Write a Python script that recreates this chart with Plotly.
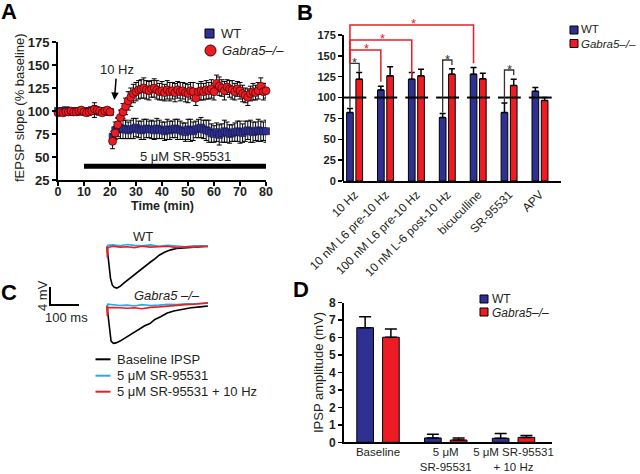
import plotly.graph_objects as go

W, H = 640, 474
def px(x): return x / W
def py(y): return 1 - y / H

BLUE = "#2E3192"
RED = "#ED1C24"
CYAN = "#29ABE2"
INK = "#231F20"
FONT = "Liberation Sans, Arial, sans-serif"

# ---------------- Panel A data ----------------
time_min = list(range(0, 81))
wt_a = ([100, 99, 100, 101, 100, 100, 99, 100, 99, 100, 100, 99, 100, 101, 101, 100, 99, 100, 100, 99, 99]
        + [72, 79, 82, 80]
        + [81, 80, 79, 80, 81, 82, 80, 79, 80, 81,
           80, 80, 79, 81, 80, 79, 78, 80, 79, 80,
           81, 80, 79, 78, 77, 80, 79, 78, 80, 81,
           82, 80, 79, 78, 76, 75, 77, 74, 76, 78,
           77, 75, 76, 77, 78, 77, 76, 78, 79, 78,
           77, 78, 79, 78, 78, 78])
wt_a_err = ([2, 2, 3, 2, 3, 2, 2, 3, 2, 3, 2, 3, 2, 3, 8, 3, 2, 3, 2, 3, 2]
            + [6]
            + [9, 10, 10, 11, 10, 9, 10, 11, 10, 9,
               10, 11, 10, 9, 10, 10, 11, 10, 9, 10,
               11, 10, 9, 10, 11, 10, 9, 10, 11, 12,
               10, 9, 10, 11, 10, 11, 12, 10, 9, 10,
               11, 10, 12, 11, 10, 9, 10, 11, 12, 10,
               11, 10, 12, 11, 10, 12, 11, 10, 12])
ko_a = ([98, 99, 98, 99, 99, 100, 99, 99, 100, 101, 99, 98, 99, 100, 102, 101, 100, 98, 100, 101, 99]
        + [67]
        + [76, 85, 93, 99, 105, 111, 115, 119, 121, 123,
           124, 125, 123, 122, 124, 125, 123, 121, 122, 120,
           123, 121, 122, 120, 123, 121, 122, 120, 119, 122,
           121, 114, 121, 122, 121, 123, 122, 124, 121, 130,
           127, 125, 122, 126, 124, 123, 121, 124, 122, 119,
           117, 115, 119, 121, 120, 122, 127, 121, 122])
ko_a_err = ([2, 3, 2, 3, 2, 2, 3, 2, 3, 2, 3, 2, 3, 3, 4, 3, 2, 3, 3, 2, 3]
            + [8]
            + [7, 8, 8, 9, 9, 10, 10, 10, 10, 10,
               10, 11, 10, 10, 9, 10, 10, 9, 10, 9,
               10, 10, 9, 10, 9, 10, 9, 10, 10, 9,
               10, 8, 9, 10, 9, 10, 9, 10, 9, 9,
               10, 9, 10, 8, 9, 10, 9, 8, 9, 9,
               8, 9, 8, 9, 8, 9, 9, 9, 8])
drug_window = [10, 80]          # 5 uM SR-95531 application (min)
stim_time = 22                  # 10 Hz stimulation (min)
a_yticks = [25, 50, 75, 100, 125, 150, 175]
a_xticks = [0, 10, 20, 30, 40, 50, 60, 70, 80]

# ---------------- Panel B data ----------------
b_cats = ["10 Hz", "10 nM L6 pre-10 Hz", "100 nM L6 pre-10 Hz", "10 nM L-6 post-10 Hz",
          "bicuculline", "SR-95531", "APV"]
wt_b = [82, 109, 122, 76, 128, 82, 107.5]
wt_b_err = [5, 4.5, 8, 5, 8, 11.5, 4.5]
ko_b = [122, 126, 126, 128, 122.5, 114.5, 96.5]
ko_b_err = [8, 11, 8, 6.5, 6.5, 7.5, 3.5]
b_yticks = [0, 25, 50, 75, 100, 125, 150, 175]
b_reference = 100
# within-group significance (group index, bracket height, left foot, right foot)
sig_groups = [0, 3, 5]
sig_heights = [141, 145, 133]
sig_left_feet = [88, 82, 94]
sig_right_feet = [131, 139, 127]
# versus 10 Hz WT (target group, bracket height, right foot)
cmp_groups = [1, 2, 4]
cmp_heights = [157, 169, 187]
cmp_feet = [119, 124, 141]

# ---------------- Panel C data (IPSP traces) ----------------
wt_base_t = [0, 3, 7, 12, 18, 25, 34, 45, 60, 75, 90, 105, 120, 135, 150, 165, 180, 200, 220, 240, 260, 290, 320, 348]
wt_base_v = [0, -1.5, -4.5, -7.0, -8.5, -9.0, -9.2, -8.8, -8.0, -7.2, -6.4, -5.8, -4.8, -4.2, -3.4, -2.7,
             -1.9, -1.2, -0.7, -0.4, -0.3, -0.1, 0.0, 0.1]
ko_base_t = [0, 3, 8, 14, 22, 31, 45, 62, 80, 91, 110, 130, 148, 165, 185, 206, 230, 263, 290, 321, 348]
ko_base_v = [0, -2.0, -5.5, -7.8, -8.3, -8.2, -7.8, -7.1, -6.4, -6.0, -5.3, -4.4, -3.9, -3.0, -2.4,
             -1.6, -1.1, -0.7, -0.4, -0.2, 0.0]
flat_t = [0, 1, 3, 20, 45, 70, 95, 120, 150, 180, 210, 240, 270, 300, 330, 348]
wt_sr_v = [0.2, -1.2, 0.3, 0.4, 0.2, 0.5, 0.3, 0.2, 0.4, 0.1, 0.3, 0.2, 0.0, 0.2, 0.1, 0.2]
wt_hz_v = [0, -2.4, -0.2, 0.1, -0.1, 0.0, -0.2, 0.1, -0.1, 0.0, 0.1, -0.2, 0.0, -0.1, 0.1, 0.0]
ko_sr_v = [0.3, -1.0, 0.4, 0.3, 0.1, 0.2, 0.0, 0.3, 0.1, 0.2, 0.4, 0.3, 0.5, 0.5, 0.6, 0.6]
ko_hz_v = [0, -2.2, -0.3, -0.3, -0.4, -0.5, -0.4, -0.6, -0.3, -0.2, 0.0, 0.1, 0.3, 0.4, 0.6, 0.7]
scale_ms = 100
scale_mv = 4

# ---------------- Panel D data ----------------
d_cats = ["Baseline", "5 \u03bcM<br>SR-95531", "5 \u03bcM SR-95531<br>+ 10 Hz"]
wt_d = [6.57, 0.25, 0.23]
wt_d_err = [0.63, 0.21, 0.28]
ko_d = [6.02, 0.13, 0.28]
ko_d_err = [0.47, 0.12, 0.11]

# legend labels
group_names = ["WT", "<i>Gabra5\u2013/\u2013</i>"]
trace_names = ["Baseline IPSP", "5 \u03bcM SR-95531", "5 \u03bcM SR-95531 + 10 Hz"]

fig = go.Figure()

# Panel A
fig.add_trace(go.Scatter(
    x=time_min, y=wt_a, mode="markers", name=group_names[0], showlegend=False,
    error_y=dict(type="data", array=wt_a_err, color="black", thickness=1, width=2.5),
    marker=dict(symbol="square", size=7, color=BLUE, line=dict(color="#14163f", width=0.6)),
    cliponaxis=False, xaxis="x", yaxis="y"))
fig.add_trace(go.Scatter(
    x=time_min, y=ko_a, mode="markers", name=group_names[1], showlegend=False,
    error_y=dict(type="data", array=ko_a_err, color="black", thickness=1, width=2.5),
    marker=dict(symbol="circle", size=8, color=RED, line=dict(color="#3a0000", width=0.7)),
    cliponaxis=False, xaxis="x", yaxis="y"))

# Panel B
bw_b = 0.216
fig.add_trace(go.Bar(
    x=b_cats, y=wt_b, name=group_names[0], showlegend=False, width=bw_b, offset=-0.15 - bw_b / 2,
    marker=dict(color=BLUE, line=dict(color="black", width=1)),
    error_y=dict(type="data", symmetric=False, array=wt_b_err, arrayminus=[0] * len(wt_b),
                 color="black", thickness=1.5, width=3),
    xaxis="x2", yaxis="y2"))
fig.add_trace(go.Bar(
    x=b_cats, y=ko_b, name=group_names[1], showlegend=False, width=bw_b, offset=0.15 - bw_b / 2,
    marker=dict(color=RED, line=dict(color="black", width=1)),
    error_y=dict(type="data", symmetric=False, array=ko_b_err, arrayminus=[0] * len(ko_b),
                 color="black", thickness=1.5, width=3),
    xaxis="x2", yaxis="y2"))

# Panel D
bw_d = 0.246
fig.add_trace(go.Bar(
    x=d_cats, y=wt_d, name=group_names[0], showlegend=False, width=bw_d, offset=-0.19 - bw_d / 2,
    marker=dict(color=BLUE, line=dict(color="black", width=1)),
    error_y=dict(type="data", symmetric=False, array=wt_d_err, arrayminus=[0] * 3,
                 color="black", thickness=1.5, width=6),
    xaxis="x3", yaxis="y3"))
fig.add_trace(go.Bar(
    x=d_cats, y=ko_d, name=group_names[1], showlegend=False, width=bw_d, offset=0.19 - bw_d / 2,
    marker=dict(color=RED, line=dict(color="black", width=1)),
    error_y=dict(type="data", symmetric=False, array=ko_d_err, arrayminus=[0] * 3,
                 color="black", thickness=1.5, width=6),
    xaxis="x3", yaxis="y3"))

# Panel C traces
trace_colors = ["black", CYAN, RED]
for ax, (bt, bv), sv, hv in [
        ("4", (wt_base_t, wt_base_v), wt_sr_v, wt_hz_v),
        ("5", (ko_base_t, ko_base_v), ko_sr_v, ko_hz_v)]:
    for name, col, (tx, ty) in zip(trace_names, trace_colors, [(bt, bv), (flat_t, sv), (flat_t, hv)]):
        fig.add_trace(go.Scatter(x=tx, y=ty, mode="lines", name=name, showlegend=False,
                                 line=dict(color=col, width=1.6),
                                 xaxis="x" + ax, yaxis="y" + ax))

tickfont_bold = lambda s: dict(family=FONT, size=s, color=INK, weight="bold")
axis_common = dict(showgrid=False, zeroline=False, linecolor="black", linewidth=2,
                   ticks="outside", ticklen=4, tickwidth=1.5, tickcolor="black", automargin=False)

layout = dict(
    width=W, height=H, margin=dict(l=0, r=0, t=0, b=0, autoexpand=False),
    paper_bgcolor="white", plot_bgcolor="rgba(0,0,0,0)",
    font=dict(family=FONT, size=13, color=INK),
    barmode="overlay", showlegend=False,
    # A
    xaxis=dict(domain=[px(58), px(266)], range=[0, 80], tickvals=a_xticks, showline=True,
               tickfont=tickfont_bold(12.5), ticklabelstandoff=-5, anchor="y", **axis_common),
    yaxis=dict(domain=[py(180), py(42)], range=[25, 175], tickvals=a_yticks, showline=True,
               tickfont=tickfont_bold(13), anchor="x", **axis_common),
    # B
    xaxis2=dict(domain=[px(343), px(561)], range=[-0.375, 6.68], type="category", showline=True,
                showgrid=False, zeroline=False, linecolor="black", linewidth=2, ticks="",
                tickangle=-45, tickfont=dict(family=FONT, size=12, color=INK), anchor="y2",
                automargin=False),
    yaxis2=dict(domain=[py(181), py(14.1)], range=[0, 200], tickvals=b_yticks, showline=False,
                showgrid=False, zeroline=False, ticks="outside", ticklen=4, tickwidth=1.5,
                tickcolor="black", tickfont=tickfont_bold(11), anchor="x2", automargin=False),
    # D
    xaxis3=dict(domain=[px(344), px(552)], range=[-0.502, 2.568], type="category", showline=True,
                showgrid=False, zeroline=False, linecolor="black", linewidth=2, ticks="",
                tickangle=0, tickfont=dict(family=FONT, size=11.5, color=INK), anchor="y3",
                ticklabelstandoff=-2, automargin=False),
    yaxis3=dict(domain=[py(442.3), py(302.7)], range=[0, 8], dtick=1, showline=True,
                tickfont=tickfont_bold(12), anchor="x3", **axis_common),
    # C (WT, Gabra5) - hidden axes
    xaxis4=dict(domain=[px(40), px(215)], range=[-231, 372.4], visible=False, anchor="y4"),
    yaxis4=dict(domain=[py(291.7), py(237.7)], range=[-10, 2], visible=False, anchor="x4"),
    xaxis5=dict(domain=[px(40), px(215)], range=[-231, 372.4], visible=False, anchor="y5"),
    yaxis5=dict(domain=[py(351), py(279)], range=[-10, 6], visible=False, anchor="x5"),
)
fig.update_layout(**layout)

shapes = []
ann = []

def label(text, x, y, size=13, bold=False, color=INK, angle=0, italic=False, xanchor="center", pad=1):
    t = f"<i>{text}</i>" if italic else text
    ann.append(dict(text=t, x=px(x), y=py(y), xref="paper", yref="paper", showarrow=False,
                    xanchor=xanchor, yanchor="middle", textangle=angle, borderpad=pad,
                    font=dict(family=FONT, size=size, color=color,
                              weight="bold" if bold else "normal")))

# A: drug application bar
shapes.append(dict(type="line", xref="x", yref="y", x0=drug_window[0], x1=drug_window[1], y0=40, y1=40,
                   line=dict(color="black", width=5)))
# B: y axis line up to 175 only
shapes.append(dict(type="line", xref="x2 domain", yref="y2", x0=0, x1=0, y0=0, y1=b_yticks[-1],
                   line=dict(color="black", width=2)))
# B: 100% reference segments
for i in range(len(b_cats)):
    shapes.append(dict(type="line", xref="x2", yref="y2", x0=i - 0.36, x1=i + 0.38,
                       y0=b_reference, y1=b_reference, line=dict(color="black", width=2), layer="above"))
# B: within-group brackets
for g, h, lf, rf in zip(sig_groups, sig_heights, sig_left_feet, sig_right_feet):
    xl, xr = g - 0.15, g + 0.15
    shapes.append(dict(type="path", xref="x2", yref="y2",
                       path=f"M {xl},{lf} L {xl},{h} L {xr},{h} L {xr},{rf}",
                       line=dict(color="#333", width=1.3)))
    ann.append(dict(text="*", x=g, y=h + 1, xref="x2", yref="y2", showarrow=False, yanchor="middle",
                    xanchor="center", font=dict(family=FONT, size=13, color="#333")))
# B: comparisons with 10 Hz WT
x0 = 0 - 0.15
for g, h, f in zip(cmp_groups, cmp_heights, cmp_feet):
    xr = g - 0.15
    shapes.append(dict(type="path", xref="x2", yref="y2",
                       path=f"M {x0},{sig_heights[0]} L {x0},{h} L {xr},{h} L {xr},{f}",
                       line=dict(color=RED, width=1.5)))
    ann.append(dict(text="*", x=(xr + x0) / 2 + 0.05, y=h + 1.5, xref="x2", yref="y2", showarrow=False,
                    yanchor="middle", xanchor="center", font=dict(family=FONT, size=13, color=RED)))
# C: scale bar (in Gabra5 trace axes)
sx, sy = -196.6, 0.2
shapes.append(dict(type="path", xref="x5", yref="y5",
                   path=f"M {sx},{sy + scale_mv} L {sx},{sy} L {sx + scale_ms},{sy}",
                   line=dict(color="black", width=2)))

# ---- hand-placed legends ----
def legend_square(cx, cy, size, color):
    h = size / 2
    shapes.append(dict(type="rect", xref="paper", yref="paper",
                       x0=px(cx - h), x1=px(cx + h), y0=py(cy + h), y1=py(cy - h),
                       fillcolor=color, line=dict(color="black", width=1)))

def legend_circle(cx, cy, size, color):
    h = size / 2
    shapes.append(dict(type="circle", xref="paper", yref="paper",
                       x0=px(cx - h), x1=px(cx + h), y0=py(cy + h), y1=py(cy - h),
                       fillcolor=color, line=dict(color="#3a0000", width=1)))

# A legend
legend_square(209.5, 33.5, 9, BLUE)
legend_circle(210.5, 50.5, 11, RED)
label(group_names[0], 219, 33.5, size=13, xanchor="left")
label(group_names[1], 220, 50.5, size=13, xanchor="left")
# B legend
legend_square(574, 30, 8, BLUE)
legend_square(574, 43.5, 8, RED)
label(group_names[0], 580, 29.5, size=11.5, xanchor="left", pad=0)
label(group_names[1], 580, 44, size=11.5, xanchor="left", pad=0)
# D legend
legend_square(484, 299, 8, BLUE)
legend_square(484, 312, 8, RED)
label(group_names[0], 491, 298.5, size=12, xanchor="left", pad=0)
label(group_names[1], 491, 312.5, size=12, xanchor="left", pad=0)
# C legend
for name, col, ly in zip(trace_names, trace_colors, [359.3, 375.7, 391.7]):
    shapes.append(dict(type="line", xref="paper", yref="paper", x0=px(95.5), x1=px(110.5),
                       y0=py(ly), y1=py(ly), line=dict(color=col, width=2)))
    label(name, 114.5, ly, size=13, xanchor="left")

# panel letters
for letter, lx, ly in [("A", 9, 11), ("B", 305, 12), ("C", 9, 292), ("D", 301, 289)]:
    label(letter, lx, ly, size=22, bold=True, color="black")

# A texts
label("fEPSP slope (% baseline)", 19, 108, angle=-90)
label("Time (min)", 162, 206, size=12.5, bold=True)
label("5 \u03bcM SR-95531", 185, 156)
ann.append(dict(text="10 Hz", x=stim_time - 0.3, y=112, xref="x", yref="y", ax=stim_time + 0.6, ay=145,
                axref="x", ayref="y", showarrow=True, arrowhead=2, arrowsize=1, arrowwidth=1.5,
                arrowcolor="black", font=dict(family=FONT, size=13, color=INK)))

# C labels
label("WT", 143, 236)
label("Gabra5 \u2013/\u2013", 167, 295, italic=True)
label("4 mV", 42, 296, angle=-90)
label("100 ms", 66, 317)

# D y title
label("IPSP amplitude (mV)", 318, 373, angle=-90)

fig.update_layout(shapes=shapes, annotations=ann)
fig.write_html("out.html", config={"displayModeBar": False, "staticPlot": True},
               post_script="document.body.style.margin='0px';document.body.style.overflow='hidden';")
